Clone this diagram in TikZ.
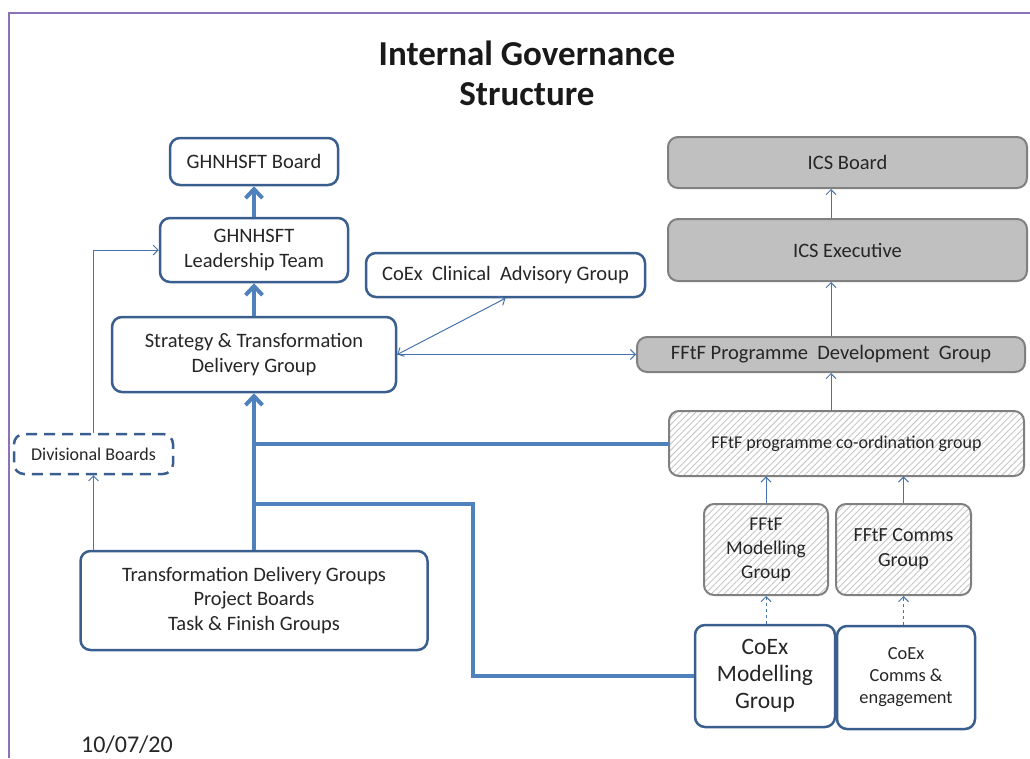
\documentclass[tikz,border=0pt]{standalone}
\usepackage{fontspec}
\setmainfont{Carlito}
\usepackage{tikz}
\usetikzlibrary{shapes, arrows.meta, positioning, calc, patterns.meta}

\definecolor{linkblue}{HTML}{4F81BD}
\definecolor{edgeblue}{HTML}{3A5F8E}
\definecolor{framepurple}{HTML}{8E72B8}
\definecolor{icsgray}{HTML}{C0C0C0}
\definecolor{icsedge}{HTML}{808080}

\tikzstyle{block} = [draw=edgeblue, rectangle, rounded corners=10pt, line width=2.5pt, fill=white, text=black!85, align=center, inner sep=0pt, font=\fontsize{20.5}{25}\selectfont]
\tikzstyle{icsblock} = [block, draw=icsedge, fill=icsgray, line width=2pt]
\tikzstyle{hatchblock} = [block, draw=icsedge, line width=2pt, pattern={Lines[angle=45, distance=4.5pt, line width=0.9pt]}, pattern color=gray!45]
\tikzstyle{thickline} = [draw=linkblue, line width=4pt, >={Straight Barb[length=9pt, width=17pt]}]
\tikzstyle{thinline} = [draw=linkblue!90!black, line width=1pt, >={Straight Barb[length=5pt, width=10pt]}]

\begin{document}
\begin{tikzpicture}[x=1pt, y=-1pt, node distance=100pt]
        \useasboundingbox (0,0) rectangle (1030,758);
        \draw[framepurple, line width=2pt] (9,758) -- (9,13) -- (1030,13);
        \node[font=\bfseries\fontsize{35}{40}\selectfont, align=center, text=black!90] (title) at (527,73) {Internal Governance\\ Structure};
        % own trust
        \node[block, minimum width=284pt, minimum height=75pt] (strat) at (254,354.5) {Strategy \& Transformation\\ Delivery Group};
        \node[block, above of = strat, node distance=104.5pt, minimum width=188pt, minimum height=64pt] (lead) {GHNHSFT\\ Leadership Team};
        \node[block, above of = lead, node distance=88.5pt, minimum width=168pt, minimum height=47pt] (board) {GHNHSFT Board};
        \node[block, minimum width=279pt, minimum height=44pt] (clin) at (505.5,275) {CoEx~~Clinical~~Advisory Group};
        \node[block, dashed, dash pattern=on 11pt off 7pt, minimum width=159pt, minimum height=40pt, font=\fontsize{18}{22}\selectfont] (div) at (93.5,454) {Divisional Boards};
        \node[block, minimum width=347pt, minimum height=99pt, font=\fontsize{20.5}{24.5}\selectfont] (tdg) at (254,600.5) {Transformation Delivery Groups\\ Project Boards\\ Task \& Finish Groups};
        % system side
        \node[icsblock, minimum width=359pt, minimum height=62pt] (icse) at (847.5,250) {ICS Executive};
        \node[icsblock, above of = icse, node distance=87.5pt, minimum width=359pt, minimum height=51pt] (icsb) {ICS Board};
        \node[icsblock, minimum width=388pt, minimum height=35pt] (pdg) at (831,354.5) {FFtF Programme~~Development~~Group};
        \node[hatchblock, minimum width=355pt, minimum height=65pt, font=\fontsize{18}{22}\selectfont] (coord) at (846.5,443.5) {FFtF programme co-ordination group};
        \node[hatchblock, minimum width=124pt, minimum height=91pt, font=\fontsize{19.5}{24}\selectfont] (fmod) at (766,549.5) {FFtF\\ Modelling\\ Group};
        \node[hatchblock, minimum width=135pt, minimum height=91pt, font=\fontsize{20}{25}\selectfont] (fcom) at (903.5,549.5) {FFtF Comms\\ Group};
        \node[block, minimum width=140pt, minimum height=102pt, font=\fontsize{23.5}{27}\selectfont] (cmod) at (765,676) {CoEx\\ Modelling\\ Group};
        \node[block, minimum width=138pt, minimum height=103pt, font=\fontsize{18.4}{22}\selectfont] (ccom) at (906,677.5) {CoEx\\ Comms \&\\ engagement};
        \node[font=\fontsize{24}{28}\selectfont, text=black!85, inner sep=1pt] (date) at (127,745) {10/07/20};
        % thick reporting lines
        \draw[thickline, ->] (lead.north) -- (board.south);
        \draw[thickline, ->] (strat.north) -- (lead.south);
        \draw[thickline, ->] (tdg.north) -- (strat.south);
        \coordinate (split) at (254,504);
        \coordinate (bend) at (473,504);
        \draw[thickline] (strat.south |- coord.west) -- (coord.west);
        \draw[thickline] (split) -- (bend) |- (cmod.west);
        % thin links
        \draw[thinline, ->] (div.south |- tdg.north) -- (div.south);
        \draw[thinline, ->] (div.north) |- (lead.west);
        \draw[thinline, <->] (strat.east) -- (clin.south);
        \draw[thinline, ->] (strat.east) -- (pdg.west);
        \draw[thinline, ->] (pdg.north) -- (pdg.north |- icse.south);
        \draw[thinline, ->] (pdg.north |- icse.north) -- (pdg.north |- icsb.south);
        \draw[thinline, ->] (pdg.south |- coord.north) -- (pdg.south);
        \draw[thinline, ->] (fmod.north) -- (fmod.north |- coord.south);
        \draw[thinline, ->] (fcom.north) -- (fcom.north |- coord.south);
        \draw[thinline, dashed, dash pattern=on 3pt off 3pt, ->] (fmod.south |- cmod.north) -- (fmod.south);
        \draw[thinline, dashed, dash pattern=on 3pt off 3pt, ->] (fcom.south |- ccom.north) -- (fcom.south);
    \end{tikzpicture}
\end{document}
